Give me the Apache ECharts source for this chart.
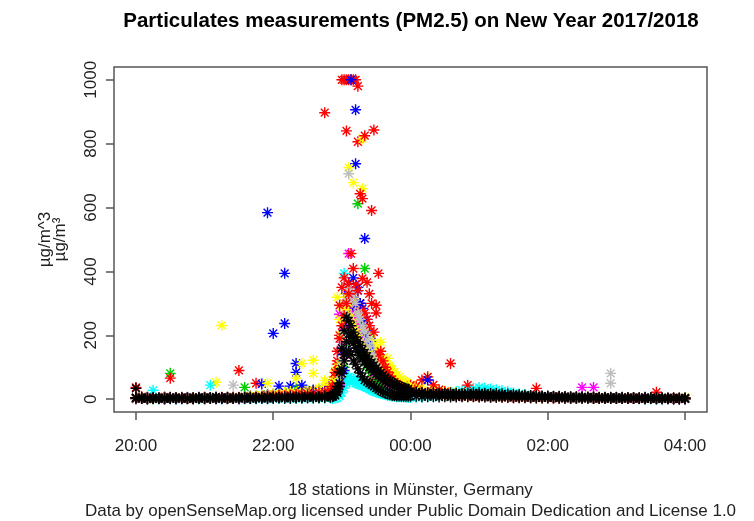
<!DOCTYPE html>
<html>
<head>
<meta charset="utf-8">
<script src="https://cdn.jsdelivr.net/npm/echarts@6/dist/echarts.min.js"></script>
<style>
  html, body { margin: 0; background: #fff; }
  #chart { width: 754px; height: 521px; }
</style>
</head>
<body>
<div id="chart"></div>
<script>
// PM2.5 readings in µg/m³, one array per station.
// Each array: 35 values every 5 min from 20:00 to 22:50,
// 34 values every 2 min from 22:52 to 23:58, 49 values every 5 min from 00:00 to 04:00 (UTC)
var st01 = [34,6,4,5,3,4,6,5,4,3,5,6,4,5,7,5,6,4,5,6,7,5,6,8,7,6,8,9,7,8,10,9,8,10,11,
  14,22,40,85,160,215,256,245,230,210,195,180,168,155,145,135,124,115,106,98,90,82,75,68,62,57,53,49,45,42,39,36,34,32,
  24,22,21,20,20,19,19,20,19,18,19,20,20,19,18,18,17,16,15,14,13,12,11,10,10,9,9,8,8,8,7,7,7,6,6,6,6,6,5,5,5,6,5,5,5,4,5,4,4];
var st02 = [37,8,6,5,4,7,5,4,6,3,5,4,6,5,4,6,5,7,6,8,10,50,12,14,16,15,18,20,22,25,24,28,30,32,38,
  45,60,120,200,1000,1000,1000,1000,1000,1000,1000,980,300,220,170,130,100,85,70,60,52,46,40,36,33,30,28,26,24,22,20,19,18,17,
  40,32,26,20,16,14,12,11,10,10,9,9,8,8,8,7,7,7,6,6,6,5,5,5,5,4,4,4,4,3,3,3,3,3,3,2,2,2,2,3,2,2,3,2,2,2,2,1,2];
var st03 = [5,4,6,5,4,6,81,5,4,6,5,4,6,5,4,5,6,4,5,6,8,10,12,14,15,18,20,22,35,24,26,28,30,32,34,
  40,50,60,80,120,160,200,240,260,278,300,612,280,250,409,220,190,160,140,120,100,90,80,70,62,55,50,45,40,37,34,32,30,28,
  26,24,22,20,19,18,17,16,15,14,14,13,12,12,11,11,10,10,9,9,8,8,7,7,6,6,6,5,5,5,4,4,4,4,3,3,3,3,3,2,2,2,2,2,2,2,2,2,2];
var st04 = [4,3,5,4,3,4,5,3,4,5,3,4,5,4,3,5,4,3,4,5,6,8,48,12,206,15,394,41,84,30,26,28,30,32,36,
  45,55,65,72,150,240,331,362,1000,380,737,340,300,284,503,250,210,180,150,128,110,95,80,70,60,52,46,40,36,33,30,28,26,24,
  22,21,20,19,18,17,16,15,14,14,13,12,12,11,10,10,9,9,8,8,7,7,7,6,6,6,5,5,5,4,4,4,4,3,3,3,3,3,3,2,2,2,2,2,2,2,2,2,2];
var st05 = [3,2,4,28,3,2,3,4,2,3,2,3,4,3,2,3,4,2,3,2,3,4,3,4,5,4,5,6,5,6,7,6,7,8,8,
  8,10,20,60,40,394,60,70,60,55,50,48,45,42,40,37,35,32,30,27,25,22,20,18,16,14,12,11,10,9,9,8,8,7,
  7,8,9,10,12,14,16,20,24,28,30,34,37,35,32,30,27,24,20,17,14,12,10,9,8,7,6,6,5,5,5,4,4,4,4,3,3,3,3,3,3,2,2,2,2,2,2,2,2];
var st06 = [2,3,4,2,3,5,3,2,4,3,2,3,4,2,3,4,3,2,3,4,5,6,8,10,12,11,14,15,16,18,20,22,24,26,30,
  35,50,80,266,178,230,300,456,320,290,260,240,215,195,175,160,145,130,118,105,95,85,76,68,60,55,50,45,40,37,34,31,29,27,
  25,23,21,19,18,17,16,15,14,13,12,12,11,11,10,10,9,9,8,8,7,7,7,6,6,6,5,5,5,5,37,4,37,4,4,3,3,3,3,3,3,3,2,2,2,2,2,2,2];
var st07 = [3,4,2,3,4,3,2,4,3,2,3,4,3,4,53,3,4,5,4,6,8,10,12,50,16,18,20,24,66,30,28,122,35,40,45,
  60,90,319,250,290,300,320,725,340,678,310,290,270,659,240,220,200,185,170,160,150,178,130,120,128,105,95,85,75,70,62,58,54,50,
  46,42,38,69,32,28,25,22,20,18,16,15,14,13,12,11,10,10,9,8,8,7,7,6,6,6,5,5,5,4,4,4,4,3,3,3,3,3,3,3,2,2,2,2,2,2,2,2,6];
var st08 = [2,3,4,3,2,3,4,3,2,3,4,3,2,3,4,3,2,44,3,4,5,6,7,8,9,10,11,12,13,14,15,16,18,20,24,
  30,40,60,100,180,300,350,706,330,300,280,260,240,225,205,190,170,150,130,115,100,90,80,72,64,58,52,47,42,38,35,32,30,28,
  26,24,22,20,19,18,17,16,15,14,13,12,11,11,10,10,9,9,8,8,7,7,7,6,6,6,5,5,5,5,4,4,4,4,4,81,3,3,3,3,3,3,2,2,2,2,2,2,2];
var st09 = [5,3,2,3,4,3,2,3,4,3,2,3,4,3,3,4,3,4,5,4,3,4,5,4,5,6,5,4,6,5,6,7,6,7,8,
  10,14,25,50,95,140,180,205,195,175,160,148,136,126,117,108,100,92,85,78,72,66,60,55,50,46,42,39,36,33,31,29,27,25,
  23,21,19,17,16,15,15,14,14,13,14,15,14,13,13,12,12,11,11,10,10,9,9,8,8,7,7,7,6,6,6,5,5,5,5,4,4,4,4,4,3,3,3,3,3,3,2,3,3];
var st10 = [4,3,2,3,2,4,66,3,2,3,4,2,3,4,3,2,3,4,3,5,4,6,8,10,12,11,14,16,18,20,22,24,26,897,40,
  50,70,110,294,350,380,840,360,340,320,300,806,290,628,270,250,230,591,210,294,140,110,90,75,64,56,50,45,40,36,33,30,28,26,
  44,40,60,70,45,30,24,112,18,16,44,14,13,12,12,11,11,10,10,10,9,9,34,8,8,8,7,7,7,6,6,6,6,5,5,5,5,4,4,4,4,4,4,22,3,3,3,3,3];
var st11 = [2,3,2,1,2,3,2,1,2,2,3,2,1,2,3,2,2,3,2,37,3,4,5,6,8,10,9,12,14,16,18,20,22,24,26,
  28,32,38,48,70,100,140,180,210,200,185,170,150,135,120,105,95,85,75,68,60,55,50,45,40,36,33,30,28,26,24,22,20,19,
  18,17,16,15,14,14,13,13,12,12,11,11,10,10,10,9,9,9,8,8,8,7,7,7,6,6,6,5,5,5,5,4,4,4,4,4,3,3,3,3,3,3,2,2,2,2,2,2,2];
var st12 = [3,2,3,4,2,3,4,2,3,3,2,4,3,2,3,4,3,2,3,4,5,6,7,584,10,41,237,14,112,44,20,22,24,26,28,
  30,35,42,50,60,90,150,200,280,320,906,350,300,240,200,170,150,130,115,100,90,78,70,62,55,50,45,40,36,33,30,28,26,25,
  24,22,20,60,18,17,16,15,15,14,13,13,12,12,11,11,10,10,9,9,8,8,8,7,7,6,6,6,5,5,5,5,4,4,4,4,4,3,3,3,3,3,3,2,2,2,2,2,2];
var st13 = [1,2,1,0,1,2,1,1,0,1,2,1,1,44,1,0,1,2,1,1,2,1,2,1,2,3,2,3,2,3,3,4,3,4,4,
  2,3,5,10,20,35,50,60,66,62,58,55,50,45,40,36,32,28,25,22,20,18,16,14,12,11,10,9,8,8,7,7,6,6,
  6,6,7,8,9,10,12,14,16,18,20,22,24,25,24,22,20,18,16,14,12,10,9,8,7,6,5,5,4,4,3,3,3,3,2,2,2,2,2,2,1,1,1,1,1,1,1,1,1];
var st14 = [1,2,1,2,3,1,2,1,2,1,2,3,1,2,1,2,3,2,1,2,3,4,5,6,7,8,9,10,11,12,13,14,16,18,20,
  22,26,32,45,80,130,180,230,270,250,225,200,185,170,150,135,120,108,96,85,76,68,60,54,48,43,39,35,32,30,28,26,24,22,
  21,20,18,17,16,15,14,13,13,12,12,11,11,10,10,9,9,8,8,7,7,7,6,6,6,5,5,5,4,4,4,4,3,3,3,3,3,3,2,2,2,2,2,2,2,1,1,1,1];
var st15 = [2,3,2,1,2,3,2,3,2,1,2,3,2,3,2,231,3,2,3,4,5,6,8,10,12,14,16,18,20,112,24,81,30,59,36,
  40,55,70,110,200,250,280,300,260,240,220,200,180,815,160,150,140,130,120,110,100,90,85,80,70,65,60,56,52,48,45,42,40,38,
  36,30,26,22,18,16,14,13,12,11,10,10,9,9,8,8,8,7,7,7,6,6,6,5,5,5,5,4,4,4,4,4,3,3,3,3,3,3,3,2,2,2,2,2,2,2,2,2,2];
var st16 = [1,2,1,2,1,2,1,2,1,2,1,2,1,2,1,2,1,2,1,2,3,4,5,6,7,8,9,10,11,12,13,14,15,16,18,
  22,28,40,70,120,200,260,310,340,320,300,270,250,230,210,185,165,140,120,105,92,80,70,62,55,49,44,40,36,33,30,28,26,24,
  22,20,19,18,17,16,15,14,13,13,12,11,11,10,10,9,9,8,8,8,7,7,6,6,6,5,5,5,5,4,4,4,4,4,3,50,3,3,3,3,3,2,2,2,2,2,2,2,2];
var st17 = [3,2,1,2,2,1,2,3,2,2,1,2,2,3,2,2,3,2,2,3,2,3,3,2,3,4,3,3,4,4,5,4,5,5,6,
  8,12,20,40,80,120,140,150,140,120,110,95,82,70,60,55,50,45,40,35,30,26,22,19,16,14,12,11,10,10,9,9,9,9,
  9,9,8,8,8,7,8,7,7,8,8,8,7,7,6,6,6,6,5,5,5,5,4,4,4,4,3,3,3,3,3,3,2,2,2,2,2,2,2,2,2,1,2,1,1,2,1,1,1];
var st18 = [3,4,5,3,4,3,5,4,3,4,3,5,4,3,4,5,3,4,90,4,5,6,7,9,10,12,11,13,15,14,16,18,20,22,28,
  40,84,150,190,230,262,300,330,456,409,360,340,643,378,825,366,330,300,843,270,394,150,120,100,85,72,62,54,48,42,38,34,31,28,
  26,24,22,20,18,16,15,13,12,11,10,10,9,9,8,8,8,7,7,7,6,6,6,5,5,5,5,4,4,4,4,4,3,3,3,3,3,3,3,2,2,2,2,2,2,2,2,2,2];

// R's default palette, cycled over the 18 stations
var palette = ['#000000', '#FF0000', '#00CD00', '#0000FF', '#00FFFF', '#FF00FF', '#FFFF00', '#BEBEBE'];
var stations = [st01, st02, st03, st04, st05, st06, st07, st08, st09,
                st10, st11, st12, st13, st14, st15, st16, st17, st18];

var tickMinutes = [0, 120, 240, 360, 480];
var tickLabels = ['20:00', '22:00', '00:00', '02:00', '04:00'];
var yTicks = [0, 200, 400, 600, 800, 1000];

// reading times in minutes after 20:00
var times = [];
for (var m = 0; m <= 170; m += 5) times.push(m);
for (m = 172; m <= 238; m += 2) times.push(m);
for (m = 240; m <= 480; m += 5) times.push(m);

var font = '"Liberation Sans", Arial, sans-serif';
// star = pch 8
var star = 'path://M5,0L5,10M0,5L10,5M1.46,1.46L8.54,8.54M1.46,8.54L8.54,1.46';

// black stations last so they sit on top, as in the original
var order = [1, 2, 3, 4, 5, 6, 7, 9, 10, 11, 12, 13, 14, 15, 17, 0, 8, 16];
var series = order.map(function (i) {
  var c = palette[i % 8];
  return {
    type: 'scatter',
    name: 'station ' + (i + 1),
    symbol: star,
    symbolSize: 11,
    itemStyle: { color: c, borderColor: c, borderWidth: 1.4, opacity: 1 },
    emphasis: { disabled: true },
    data: stations[i].map(function (v, k) { return [times[k], v]; })
  };
});

var chart = echarts.init(document.getElementById('chart'), null, { renderer: 'canvas' });
chart.setOption({
  animation: false,
  backgroundColor: '#fff',
  textStyle: { fontFamily: font },
  graphic: [{
    type: 'text', x: 411, y: 21,
    style: {
      text: 'Particulates measurements (PM2.5) on New Year 2017/2018',
      font: 'bold 20.5px ' + font, fill: '#000',
      textAlign: 'center', textVerticalAlign: 'middle'
    }
  }],
  grid: { left: 114, right: 47, top: 67, bottom: 109, show: true,
          outerBoundsMode: 'none', containLabel: false,
          borderColor: '#555', borderWidth: 1.5 },
  xAxis: {
    type: 'value', min: -19.2, max: 499.2,
    axisLine: { show: false, onZero: false },
    splitLine: { show: false },
    axisTick: { show: true, customValues: tickMinutes, length: 8,
                lineStyle: { color: '#555', width: 1.5 } },
    axisLabel: {
      customValues: tickMinutes, margin: 26, fontSize: 17, color: '#222', fontFamily: font,
      formatter: function (v) { return tickLabels[tickMinutes.indexOf(v)]; }
    },
    name: '18 stations in Münster, Germany\nData by openSenseMap.org licensed under Public Domain Dedication and License 1.0',
    nameLocation: 'middle', nameGap: 68, nameMoveOverlap: false,
    nameTextStyle: { fontSize: 17, lineHeight: 21, color: '#222', fontFamily: font }
  },
  yAxis: {
    type: 'value', min: -40, max: 1040,
    axisLine: { show: false, onZero: false },
    splitLine: { show: false },
    axisTick: { show: true, customValues: yTicks, length: 8,
                lineStyle: { color: '#555', width: 1.5 } },
    axisLabel: { customValues: yTicks, rotate: 90, margin: 14, fontSize: 17,
                 color: '#222', fontFamily: font,
                 formatter: function (v) { return String(v); } },
    name: 'µg/m^3\nµg/m³',
    nameLocation: 'middle', nameRotate: 90, nameGap: 46, nameMoveOverlap: false,
    nameTextStyle: { fontSize: 17, lineHeight: 15, color: '#222', fontFamily: font }
  },
  series: series
});
</script>
</body>
</html>
